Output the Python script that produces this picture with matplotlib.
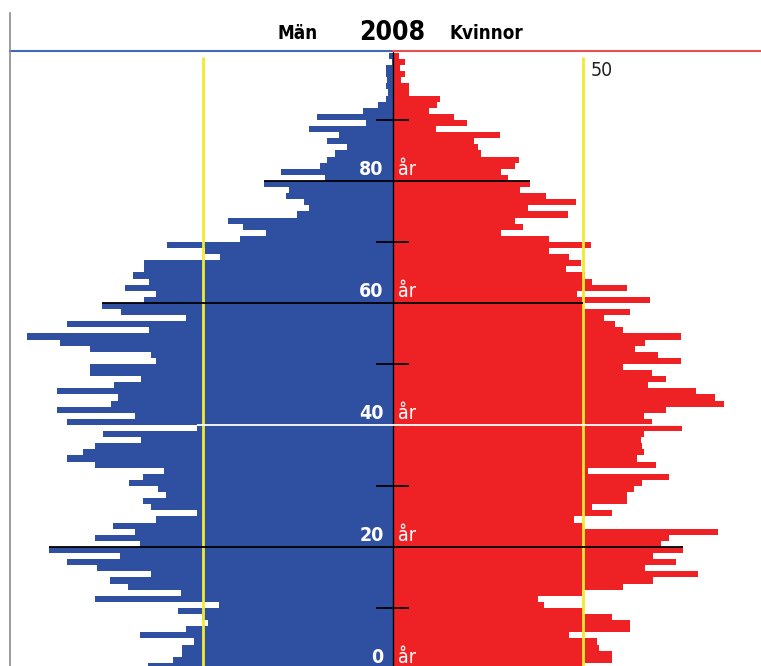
import numpy as np
import matplotlib
matplotlib.use('Agg')
import matplotlib.pyplot as plt
from matplotlib.lines import Line2D

# data: one bar per age, ages 1..101 (age 0 falls just below the visible area)
ages = np.arange(1, 102)

men = [64.6, 57.8, 55.6, 55.6, 52.5, 66.5, 54.6, 48.6, 50.3, 56.5,
       45.7, 78.5, 55.8, 69.7, 74.6, 63.8, 77.8, 85.8, 71.8, 90.6,
       66.6, 78.4, 67.8, 73.8, 62.5, 51.7, 63.8, 65.7, 59.7, 61.8,
       69.6, 65.7, 60.4, 78.4, 85.7, 81.6, 78.4, 66.4, 76.3, 51.5,
       85.7, 67.8, 88.5, 74.3, 72.5, 88.5, 73.5, 66.4, 79.7, 79.7,
       62.4, 63.6, 79.7, 87.7, 96.4, 64.3, 85.7, 54.4, 71.6, 76.5,
       65.5, 62.4, 70.6, 64.3, 68.4, 65.5, 65.5, 45.5, 49.6, 59.5,
       40.3, 33.5, 39.4, 43.4, 25.4, 22.1, 23.4, 28.1, 27.5, 34.1,
       18.0, 29.4, 19.3, 17.3, 15.3, 12.1, 17.3, 14.2, 22.1, 7.2,
       20.0, 8.0, 4.0, 2.0, 1.4, 2.0, 1.5, 2.0, 1.8, 0.3,
       1.2]

women = [50.0, 57.5, 57.5, 54.3, 53.6, 46.3, 62.4, 62.4, 57.5, 50.1,
         39.6, 38.2, 49.6, 60.4, 68.3, 80.3, 66.3, 74.4, 68.3, 76.4,
         70.4, 72.5, 85.6, 50.1, 47.5, 57.5, 52.3, 61.5, 61.5, 63.5,
         65.6, 72.5, 51.3, 69.3, 64.2, 66.1, 65.4, 65.1, 66.1, 75.9,
         68.0, 66.1, 71.9, 87.1, 84.8, 79.7, 67.1, 71.9, 68.0, 60.4,
         75.7, 69.6, 63.7, 66.3, 75.7, 60.4, 58.4, 55.6, 62.4, 49.9,
         67.5, 48.3, 61.5, 52.3, 50.5, 45.4, 49.5, 46.3, 41.1, 52.0,
         41.1, 28.4, 34.2, 32.2, 46.1, 35.4, 48.1, 40.1, 33.4, 36.1,
         30.3, 28.4, 32.2, 33.2, 23.2, 22.3, 21.4, 28.0, 11.4, 19.4,
         16.0, 9.5, 11.5, 12.4, 4.3, 4.3, 2.0, 3.2, 1.8, 3.2,
         1.5]

label_ages = [0, 20, 40, 60, 80]
tick_ages = [10, 30, 50, 70, 90]
black_line_ages = [20, 60, 80]
white_line_ages = [40]
ref_value = 50

BLUE = '#2f50a0'
RED = '#ee2124'
YELLOW = '#f2ea2e'
font_kw = dict(family='DejaVu Sans', stretch='condensed')

men = np.array(men)
women = np.array(women)

W, H = 761, 666
fig = plt.figure(figsize=(W / 100, H / 100), dpi=100)
ax = fig.add_axes([10 / W, 0, 751 / W, 615 / H])
ax.set_xlim(-100.8, 96.8)
ax.set_ylim(0.49, 101.3)
ax.axis('off')

# bars: bar for age a spans a-1 .. a
ax.barh(ages - 0.5, -men, height=1.0, color=BLUE, linewidth=0, zorder=2)
ax.barh(ages - 0.5, women, height=1.0, color=RED, linewidth=0, zorder=2)

# yellow reference lines and centre line
ax.vlines([-ref_value, ref_value], 0, 100.3, color=YELLOW, lw=2, zorder=3)
ax.axvline(0, color='black', lw=1, zorder=4)

# marker lines across the bar of that age
for a in black_line_ages:
    ax.hlines(a, -men[a - 1], women[a - 1], color='black', lw=1.3, zorder=5)
for a in white_line_ages:
    ax.hlines(a, -men[a - 1], women[a - 1], color='white', lw=1.3, zorder=5)

# short ticks
ax.hlines(tick_ages, -4.6, 4.3, color='black', lw=1.3, zorder=5)

# age labels
for a in label_ages:
    ax.text(-2.5, a + 1.05, str(a), ha='right', va='baseline', color='white',
            fontsize=14, fontweight='bold', zorder=6, **font_kw)
    ax.text(1.4, a + 1.05, 'år', ha='left', va='baseline', color='white',
            fontsize=14, zorder=6, **font_kw)

ax.text(ref_value + 2.1, 99.6, str(ref_value), ha='left', va='top',
        color='#222222', fontsize=14, zorder=6, **font_kw)

# header
fig.text(392 / W, 1 - 40 / H, '2008', ha='center', va='baseline',
         fontsize=19, fontweight='bold', **font_kw)
fig.text(298 / W, 1 - 39 / H, 'Män', ha='center', va='baseline',
         fontsize=13.5, fontweight='bold', **font_kw)
fig.text(449 / W, 1 - 39 / H, 'Kvinnor', ha='left', va='baseline',
         fontsize=13.5, fontweight='bold', **font_kw)

fig.add_artist(Line2D([10 / W, 393 / W], [1 - 51 / H] * 2, color='#4468b4', lw=1.5))
fig.add_artist(Line2D([393 / W, 1], [1 - 51 / H] * 2, color='#e45050', lw=1.5))
fig.add_artist(Line2D([10 / W] * 2, [0, 1 - 13 / H], color='#8a8a8a', lw=1.2))

fig.savefig('out.png', dpi=100)
